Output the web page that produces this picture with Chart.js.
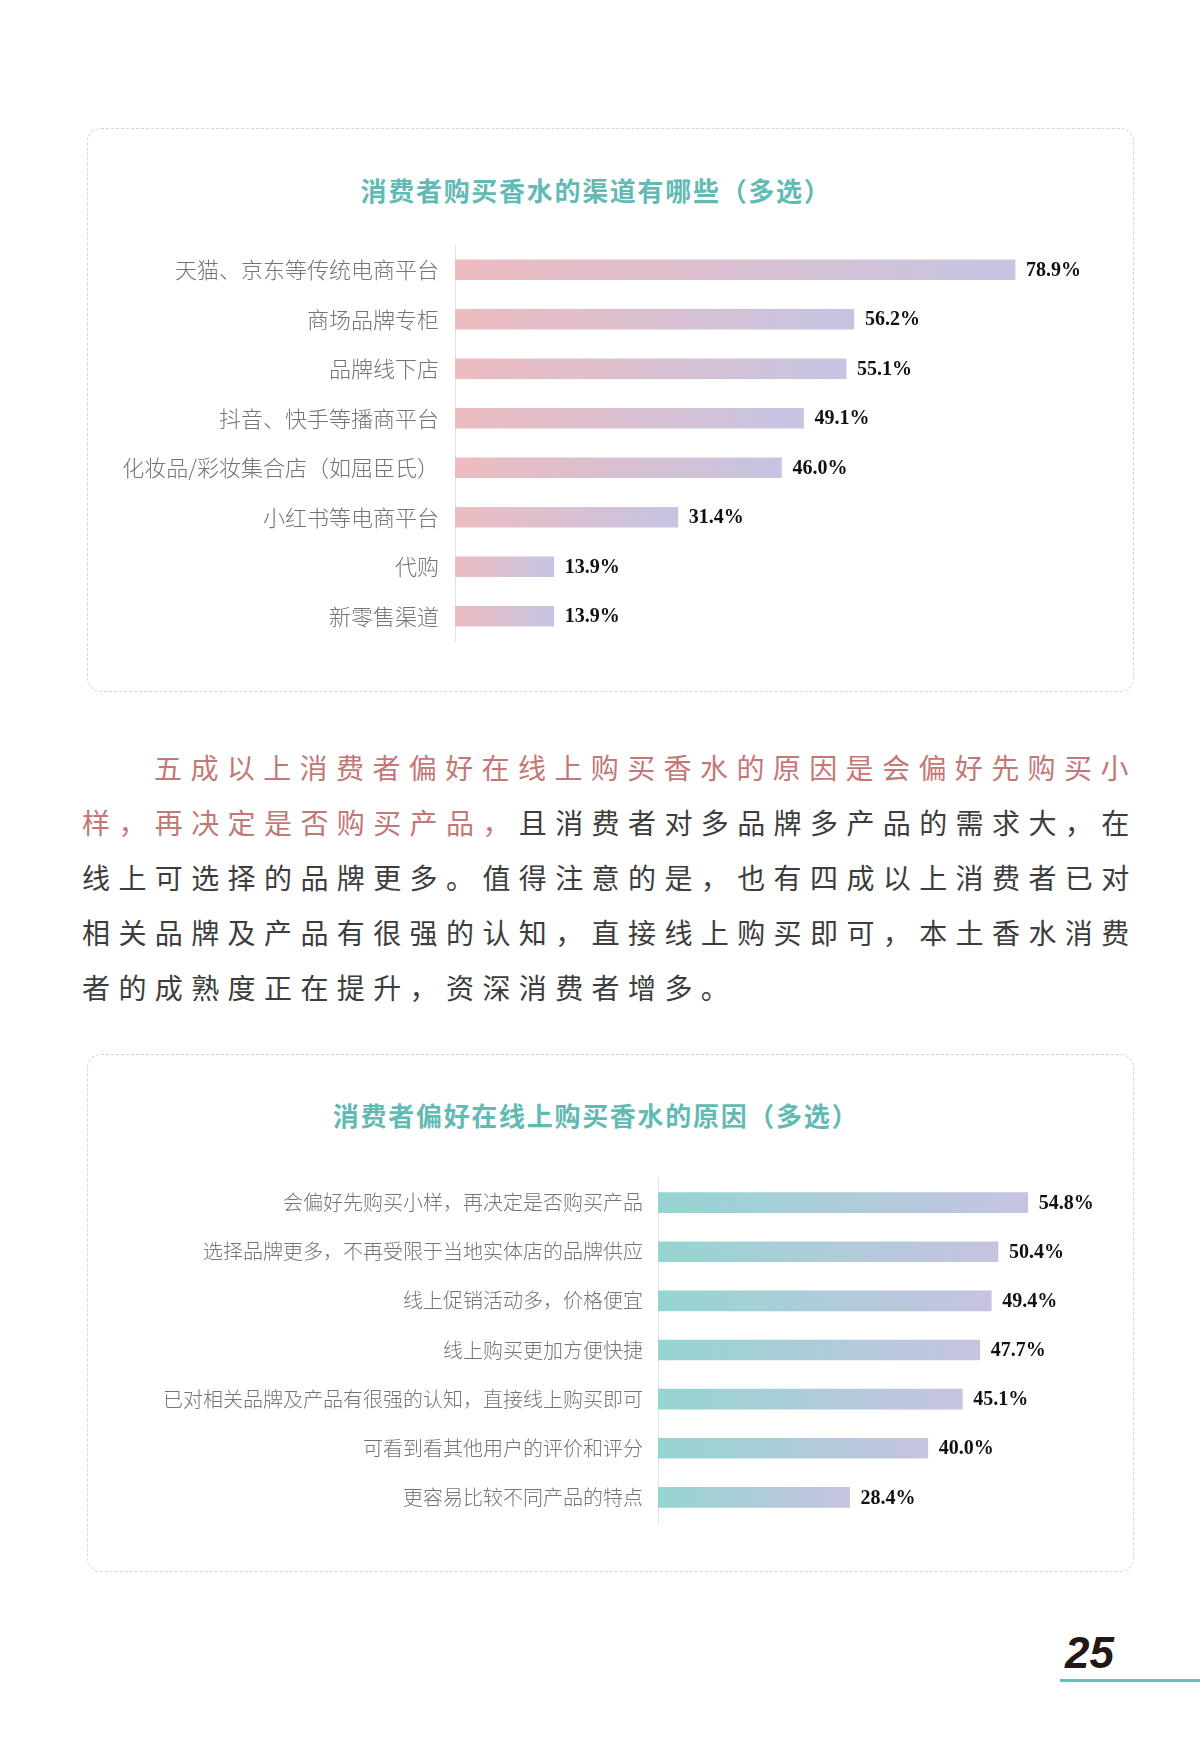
<!DOCTYPE html>
<html>
<head>
<meta charset="utf-8">
<script src="https://cdn.jsdelivr.net/npm/chart.js@4"></script>
<style>
  html, body { margin: 0; padding: 0; background: #fff; }
  body { width: 1200px; height: 1754px; position: relative; overflow: hidden; font-family: "Noto Sans CJK SC", "Noto Sans", sans-serif; }
  .box { position: absolute; left: 87px; width: 1047px; border: 1.5px dashed #d4d4d4; border-radius: 14px; box-sizing: border-box; }
  .title { position: absolute; left: 0; width: 1192px; text-align: center; color: #62bab5; font-weight: bold; font-size: 26px; letter-spacing: 1.7px; line-height: 30px; }
  .para { position: absolute; left: 82px; top: 740px; font-size: 28px; letter-spacing: 8.4px; line-height: 55px; color: #3d3d3d; white-space: nowrap; }
  .para .hl { color: #c47876; }
  canvas { position: absolute; }
  .pnum { position: absolute; left: 1065px; top: 1628px; font-family: "Liberation Sans", Arial, sans-serif; font-weight: bold; font-style: italic; font-size: 44px; color: #231815; line-height: 50px; }
  .pline { position: absolute; left: 1060px; top: 1679px; width: 140px; height: 3px; background: #6bbdb8; }
</style>
</head>
<body>

<div class="box" style="top:128px; height:564px;"></div>
<div class="title" style="top:175px;">消费者购买香水的渠道有哪些（多选）</div>
<canvas id="chart1" width="1040" height="420" style="left:90px; top:235px;"></canvas>

<div class="para">
  <div style="padding-left:72px;"><span class="hl">五成以上消费者偏好在线上购买香水的原因是会偏好先购买小</span></div>
  <div><span class="hl">样，再决定是否购买产品，</span>且消费者对多品牌多产品的需求大，在</div>
  <div>线上可选择的品牌更多。值得注意的是，也有四成以上消费者已对</div>
  <div>相关品牌及产品有很强的认知，直接线上购买即可，本土香水消费</div>
  <div>者的成熟度正在提升，资深消费者增多。</div>
</div>

<div class="box" style="top:1054px; height:518px;"></div>
<div class="title" style="top:1100px;">消费者偏好在线上购买香水的原因（多选）</div>
<canvas id="chart2" width="1040" height="360" style="left:90px; top:1170px;"></canvas>

<div class="pnum">25</div>
<div class="pline"></div>

<script>
"use strict";

// chart 1 - 购买渠道
const channelLabels = ['天猫、京东等传统电商平台', '商场品牌专柜', '品牌线下店', '抖音、快手等播商平台',
  '化妆品/彩妆集合店（如屈臣氏）', '小红书等电商平台', '代购', '新零售渠道'];
const channelValues = [78.9, 56.2, 55.1, 49.1, 46.0, 31.4, 13.9, 13.9];

// chart 2 - 线上购买原因
const reasonLabels = ['会偏好先购买小样，再决定是否购买产品', '选择品牌更多，不再受限于当地实体店的品牌供应',
  '线上促销活动多，价格便宜', '线上购买更加方便快捷', '已对相关品牌及产品有很强的认知，直接线上购买即可',
  '可看到看其他用户的评价和评分', '更容易比较不同产品的特点'];
const reasonValues = [54.8, 50.4, 49.4, 47.7, 45.1, 40.0, 28.4];

const gradientFill = (c1, c2) => (ctx) => {
  const chart = ctx.chart;
  const xs = chart.scales.x;
  if (!xs || ctx.type !== 'data') return c1;
  const x0 = xs.getPixelForValue(0);
  const x1 = xs.getPixelForValue(ctx.raw);
  if (!Number.isFinite(x0) || !Number.isFinite(x1) || x1 === x0) return c1;
  const g = chart.ctx.createLinearGradient(x0, 0, x1, 0);
  g.addColorStop(0, c1);
  g.addColorStop(1, c2);
  return g;
};

// percent labels at the end of each bar
const valueLabels = {
  id: 'valueLabels',
  afterDatasetsDraw(chart) {
    const ctx = chart.ctx;
    const meta = chart.getDatasetMeta(0);
    const vals = chart.data.datasets[0].data;
    ctx.save();
    ctx.font = 'bold 20px "Liberation Serif", "Times New Roman", serif';
    ctx.fillStyle = '#111';
    ctx.textAlign = 'left';
    ctx.textBaseline = 'middle';
    meta.data.forEach((bar, i) => {
      ctx.fillText(vals[i].toFixed(1) + '%', bar.x + 11, bar.y + 1);
    });
    ctx.restore();
  }
};

const makeChart = (id, labels, values, opts) => {
  const chart = new Chart(document.getElementById(id), {
    type: 'bar',
    data: {
      labels: labels,
      datasets: [{
        data: values,
        backgroundColor: gradientFill(opts.c1, opts.c2),
        barThickness: 20,
        borderWidth: 0
      }]
    },
    options: {
      indexAxis: 'y',
      responsive: false,
      animation: false,
      layout: { padding: opts.padding },
      plugins: { legend: { display: false }, tooltip: { enabled: false } },
      scales: {
        x: { display: false, min: 0, max: opts.max },
        y: {
          afterFit: (axis) => {
            axis.width = opts.axisWidth;
            axis.paddingTop = 0;
            axis.paddingBottom = 0;
          },
          grid: { display: false, drawTicks: false },
          border: { display: true, color: '#e2e2e2', width: 1 },
          ticks: {
            padding: opts.tickPad,
            color: '#747474',
            font: { family: '"Noto Sans CJK SC", sans-serif', size: opts.fontSize, weight: 300 }
          }
        }
      }
    },
    plugins: [valueLabels]
  });
  chart.update();
};

makeChart('chart1', channelLabels, channelValues, {
  c1: '#edbcc0', c2: '#c6c4e2', max: 92, axisWidth: 365, tickPad: 16, fontSize: 22,
  padding: { top: 10, bottom: 14, right: 22, left: 0 }
});

makeChart('chart2', reasonLabels, reasonValues, {
  c1: '#95d5d1', c2: '#c6c3e1', max: 67, axisWidth: 568, tickPad: 15, fontSize: 20,
  padding: { top: 8, bottom: 8, right: 20, left: 0 }
});
</script>
</body>
</html>
